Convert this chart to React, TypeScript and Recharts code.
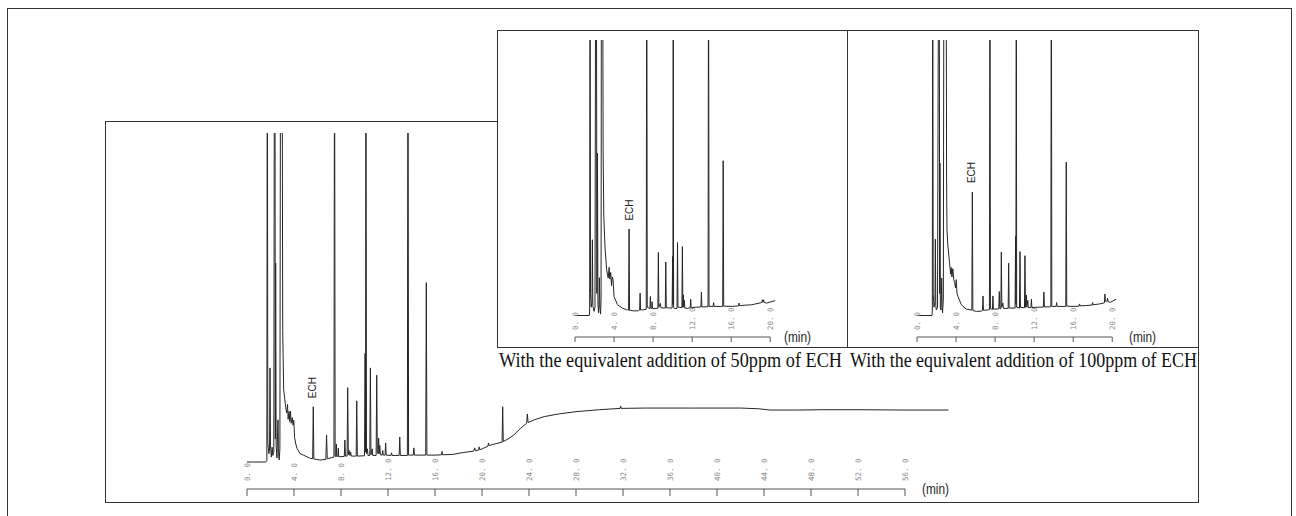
import React from 'react';
import { LineChart, Line, XAxis, YAxis, ReferenceLine, ReferenceDot } from 'recharts';

type Pt = [number, number];

// retention time (min) / detector signal (% of plotted full scale; >100 = off scale)
const mainSolvent: Pt[] = [
  [0, 0], [1.6, 0], [1.69, 0.5], [1.73, 150], [1.77, 6], [1.86, 2.5], [1.92, 4], [1.96, 28.6], [2.0, 5],
  [2.07, 1.5], [2.14, 4.5], [2.2, 2], [2.28, 3], [2.34, 150], [2.38, 150], [2.41, 7], [2.44, 60.5], [2.48, 5],
  [2.55, 1.2], [2.6, 9], [2.64, 12.8], [2.68, 3], [2.74, 0.6], [2.8, 4], [2.86, 150], [2.98, 150], [3.04, 40],
  [3.12, 22], [3.2, 19.5], [3.3, 16.5], [3.38, 14.9], [3.45, 17.5], [3.5, 13], [3.58, 15.4], [3.64, 12.3],
  [3.7, 15.4], [3.76, 11.8], [3.85, 13.5], [3.92, 11.2], [3.98, 12.7], [4.05, 7.5], [4.15, 5.5], [4.25, 4.2],
  [4.5, 2.6], [4.8, 2.1], [5.1, 1.6], [5.4, 1.1],
];

const mainMiddle: Pt[] = [
  [5.59, 1.0], [5.64, 16.8], [5.69, 0.9], [6.2, 0.6], [6.71, 0.8], [6.77, 8.2], [6.83, 1.0], [7.2, 1.3],
  [7.4, 1.5], [7.45, 150], [7.5, 2.0], [7.56, 1.6], [7.6, 5.5], [7.64, 1.7], [7.73, 1.7], [7.77, 4.2],
  [7.81, 1.6], [8.28, 1.7], [8.33, 6.7], [8.38, 1.8], [8.52, 1.8], [8.57, 22.6], [8.62, 2.2], [8.7, 3.5],
  [8.76, 2.0], [8.82, 3.0], [8.88, 1.8], [9.29, 1.8], [9.34, 18.6], [9.39, 1.8], [10.0, 1.9], [10.05, 33],
  [10.09, 3], [10.12, 150], [10.17, 2.5], [10.25, 4], [10.3, 2], [10.45, 2], [10.5, 28.6], [10.55, 2.2],
  [10.65, 4], [10.7, 2], [10.99, 2], [11.04, 26.4], [11.09, 3], [11.16, 2.5], [11.2, 7.3], [11.25, 2.5],
  [11.3, 5], [11.35, 2.2], [11.5, 2.1], [11.55, 3.5], [11.6, 2.1], [11.75, 2.1], [11.8, 5.8], [11.85, 2.1],
  [12.25, 2.0], [12.3, 2.8], [12.35, 2.0], [12.95, 2.0], [13.0, 7.6], [13.05, 2.0], [13.65, 2.0], [13.7, 150],
  [13.75, 2.1], [14.15, 2.1], [14.2, 4.3], [14.25, 2.1], [15.21, 2.1], [15.26, 54.5], [15.31, 2.1],
  [16.0, 2.1], [16.55, 2.2], [16.6, 3.2], [16.65, 2.2],
];

const mainRamp: Pt[] = [
  [17.5, 2.3], [18.4, 2.9], [19.3, 3.3], [19.38, 4.3], [19.45, 3.4], [19.7, 3.6], [19.76, 4.6], [19.82, 3.7],
  [20.5, 4.8], [20.55, 5.8], [20.6, 5.0], [21.2, 5.6], [21.71, 6.0], [21.76, 16.8], [21.81, 6.2], [22.3, 7.2],
  [22.7, 8.2], [23.3, 10.3], [23.8, 11.8], [23.86, 14.6], [23.92, 12.0], [24.5, 12.9], [25.3, 13.8],
  [26.5, 14.6], [28, 15.3], [30, 15.9], [31.75, 16.3], [31.8, 17.0], [31.85, 16.3], [34, 16.4], [38, 16.4],
  [42, 16.4], [43.5, 16.2], [44.5, 15.8], [47, 15.8], [49, 15.9], [52, 15.9], [56, 15.8], [59.7, 15.8],
];

const inset50: Pt[] = [
  [0, 0], [1.47, 0], [1.5, 2], [1.54, 150], [1.59, 8], [1.66, 3], [1.74, 5], [1.78, 27.5], [1.83, 3.5],
  [1.95, 1.5], [2.05, 3], [2.12, 150], [2.19, 150], [2.24, 8], [2.3, 58.9], [2.35, 4], [2.42, 1], [2.47, 6],
  [2.5, 13.7], [2.55, 3], [2.62, 0.5], [2.67, 6], [2.71, 150], [2.83, 150], [2.88, 60], [2.95, 36],
  [3.07, 25], [3.24, 16.6], [3.4, 13.6], [3.5, 17.5], [3.56, 13.2], [3.66, 15.6], [3.74, 10.8], [3.82, 14],
  [3.9, 12.9], [4.0, 6.9], [4.35, 3.9], [4.86, 2.7], [5.27, 2.1], [5.49, 2.0], [5.54, 31.4], [5.59, 1.9],
  [6.0, 1.7], [6.5, 1.7], [6.62, 2], [6.67, 8.1], [6.72, 2], [7.05, 2.1], [7.3, 2.3], [7.35, 150], [7.4, 3],
  [7.67, 2.5], [7.72, 6.9], [7.77, 2.6], [7.87, 2.6], [7.9, 5], [7.94, 2.5], [8.49, 2.6], [8.54, 22.9],
  [8.59, 3], [8.75, 4.4], [8.8, 2.8], [9.25, 2.7], [9.3, 19.4], [9.35, 2.8], [9.95, 2.7], [10.0, 21.4],
  [10.03, 4], [10.06, 150], [10.1, 3], [10.2, 2.5], [10.45, 2.6], [10.5, 26.5], [10.55, 3], [10.7, 3],
  [10.95, 2.8], [11.0, 25.0], [11.05, 3], [11.1, 7.5], [11.15, 3], [11.2, 5.5], [11.25, 2.7], [11.5, 2.6],
  [11.8, 2.8], [11.85, 5.9], [11.9, 2.8], [12.3, 3.0], [12.9, 3.1], [12.95, 8.5], [13.0, 3.1], [13.63, 3.2],
  [13.68, 150], [13.73, 3.3], [14.15, 3.3], [14.2, 4.7], [14.25, 3.3], [15.13, 3.3], [15.18, 56.2],
  [15.23, 3.4], [16.1, 3.3], [16.75, 3.5], [16.8, 4.5], [16.85, 3.6], [18.1, 3.9], [19.0, 4.6], [19.15, 4.8],
  [19.2, 5.7], [19.25, 4.8], [19.32, 5.7], [19.37, 4.8], [19.6, 4.5], [20.5, 5.4],
];

const inset100: Pt[] = [
  [0, 0], [1.54, 0], [1.57, 2], [1.61, 150], [1.66, 8], [1.74, 3], [1.84, 5], [1.88, 27.7], [1.93, 3.5],
  [1.98, 2], [2.1, 3], [2.22, 150], [2.28, 150], [2.32, 8], [2.35, 55.3], [2.39, 3], [2.44, 2], [2.5, 6],
  [2.53, 13.6], [2.57, 3], [2.62, 1], [2.7, 6], [2.76, 150], [2.98, 150], [3.03, 50], [3.07, 31], [3.17, 25],
  [3.34, 19], [3.45, 15], [3.5, 17.4], [3.58, 14], [3.67, 17], [3.77, 13], [3.85, 12], [3.95, 10], [4.02, 13],
  [4.1, 8], [4.2, 6.9], [4.54, 3.9], [5.05, 2.3], [5.62, 2.0], [5.67, 44.8], [5.72, 1.8], [6.1, 1.5],
  [6.6, 1.6], [6.71, 1.8], [6.76, 7.1], [6.81, 1.9], [7.2, 2.0], [7.42, 2.1], [7.47, 150], [7.52, 2.5],
  [7.73, 2.2], [7.78, 7.1], [7.83, 2.3], [8.38, 2.4], [8.43, 8.7], [8.48, 2.5], [8.59, 2.5], [8.64, 23.0],
  [8.69, 3], [8.8, 4.5], [8.85, 2.6], [9.34, 2.6], [9.39, 19.0], [9.44, 2.7], [10.05, 2.7], [10.1, 28.7],
  [10.13, 4], [10.17, 150], [10.21, 3], [10.5, 2.7], [10.55, 23.2], [10.6, 3], [11.01, 2.8], [11.06, 21.7],
  [11.11, 3], [11.2, 7.4], [11.25, 3], [11.35, 5.5], [11.4, 2.9], [11.67, 2.9], [11.72, 5.9], [11.77, 2.9],
  [12.4, 3.0], [12.95, 3.1], [13.0, 8.5], [13.05, 3.1], [13.71, 3.2], [13.76, 150], [13.81, 3.3],
  [14.25, 3.3], [14.3, 4.7], [14.35, 3.3], [15.24, 3.3], [15.29, 55.7], [15.34, 3.4], [15.97, 3.3],
  [16.6, 3.4], [16.65, 4.2], [16.7, 3.5], [17.3, 3.6], [17.94, 3.8], [17.99, 4.7], [18.04, 3.9], [18.7, 4.2],
  [19.2, 4.6], [19.25, 7.8], [19.3, 5.2], [19.47, 5.2], [19.52, 6.3], [19.57, 5.0], [19.8, 4.8], [20.4, 5.9],
];

const mainTicks = [0, 4, 8, 12, 16, 20, 24, 28, 32, 36, 40, 44, 48, 52, 56];
const mainTickLabels = ['0. 0', '4. 0', '8. 0', '12. 0', '16. 0', '20. 0', '24. 0', '28. 0', '32. 0', '36. 0', '40. 0', '44. 0', '48. 0', '52. 0', '56. 0'];
const insetTicks = [0, 4, 8, 12, 16, 20];
const insetTickLabels = ['0. 0', '4. 0', '8. 0', '12. 0', '16. 0', '20. 0'];
const captions = ['With the equivalent addition of 50ppm of ECH', 'With the equivalent addition of 100ppm of ECH'];
const peakName = 'ECH';
const unitLabel = '(min)';

const toRows = (...parts: Pt[][]) => parts.flat().map(([t, v]) => ({ t, v }));

const mainData = toRows(mainSolvent, mainMiddle, mainRamp);
const inset50Data = toRows(inset50);
const inset100Data = toRows(inset100);

const TRACE = '#262626';
const AXIS = '#555';

function TimeTick(props: any) {
  const { x, y, payload, ticks, labels, lift } = props;
  const label = labels[ticks.indexOf(payload.value)];
  return (
    <text
      transform={`translate(${x},${y - lift}) rotate(-90)`}
      textAnchor="start"
      dominantBaseline="central"
      fontSize={7.5}
      fill="#888"
      fontFamily="DejaVu Sans Mono, monospace"
    >
      {label}
    </text>
  );
}

function PeakLabel(props: any) {
  const { cx, cy } = props;
  return (
    <text
      transform={`translate(${cx},${cy}) rotate(-90)`}
      textAnchor="middle"
      dominantBaseline="central"
      fontSize={10}
      fill="#222"
      fontFamily="Liberation Sans, Arial, sans-serif"
    >
      {peakName}
    </text>
  );
}

type InsetProps = {
  data: { t: number; v: number }[];
  left: number;
  width: number;
  marginLeft: number;
  marginRight: number;
  ech: [number, number];
};

function Inset({ data, left, width, marginLeft, marginRight, ech }: InsetProps) {
  return (
    <div style={{ position: 'absolute', left, top: 30, width, height: 317, background: '#fff' }}>
      <LineChart width={width} height={317} data={data} margin={{ top: 10, right: marginRight, bottom: 0, left: marginLeft }}>
        <XAxis
          type="number"
          dataKey="t"
          domain={[0, 21]}
          ticks={insetTicks}
          interval={0}
          allowDataOverflow
          axisLine={false}
          tickSize={5}
          tickMargin={0}
          tickLine={{ stroke: AXIS }}
          height={10}
          tick={<TimeTick ticks={insetTicks} labels={insetTickLabels} lift={12} />}
        />
        <YAxis type="number" domain={[-7.8, 100]} allowDataOverflow hide />
        <ReferenceLine segment={[{ x: 0, y: -7.8 }, { x: 20, y: -7.8 }]} stroke={AXIS} ifOverflow="visible" />
        <Line type="linear" dataKey="v" stroke={TRACE} strokeWidth={1} dot={false} isAnimationActive={false} />
        <ReferenceDot x={ech[0]} y={ech[1]} r={0} ifOverflow="visible" shape={(p: any) => <PeakLabel {...p} />} />
      </LineChart>
    </div>
  );
}

const unitStyle = { fontSize: 14, fontFamily: 'Liberation Sans, Arial, sans-serif', fill: '#222' };
const captionStyle = { fontSize: 20, fontFamily: 'Liberation Serif, Times New Roman, serif', fill: '#111' };

export default function App() {
  return (
    <div style={{ position: 'absolute', left: 0, top: 0, width: 1296, height: 516, background: '#fff', overflow: 'hidden' }}>
      {/* outer frame */}
      <div style={{ position: 'absolute', left: 7, top: 8, width: 1285, height: 560, border: '1px solid #333', boxSizing: 'border-box' }} />
      {/* main chromatogram box */}
      <div style={{ position: 'absolute', left: 105, top: 121, width: 1094, height: 382, border: '1px solid #333', boxSizing: 'border-box' }} />
      <div style={{ position: 'absolute', left: 105, top: 121 }}>
        <LineChart width={1093} height={381} data={mainData} margin={{ top: 12, right: 246, bottom: 0, left: 142 }}>
          <XAxis
            type="number"
            dataKey="t"
            domain={[0, 60]}
            ticks={mainTicks}
            interval={0}
            allowDataOverflow
            axisLine={false}
            tickSize={7}
            tickMargin={0}
            tickLine={{ stroke: AXIS }}
            height={13}
            tick={<TimeTick ticks={mainTicks} labels={mainTickLabels} lift={15} />}
          />
          <YAxis type="number" domain={[-8.2, 100]} allowDataOverflow hide />
          <ReferenceLine segment={[{ x: 0, y: -8.2 }, { x: 56, y: -8.2 }]} stroke={AXIS} ifOverflow="visible" />
          <Line type="linear" dataKey="v" stroke={TRACE} strokeWidth={1} dot={false} isAnimationActive={false} />
          <ReferenceDot x={5.55} y={22.6} r={0} ifOverflow="visible" shape={(p: any) => <PeakLabel {...p} />} />
        </LineChart>
      </div>
      {/* insets */}
      <Inset data={inset50Data} left={497} width={350} marginLeft={78} marginRight={67} ech={[5.57, 38.3]} />
      <Inset data={inset100Data} left={847} width={351} marginLeft={70} marginRight={76} ech={[5.63, 51.9]} />
      <div style={{ position: 'absolute', left: 497, top: 30, width: 702, height: 318, border: '1px solid #333', boxSizing: 'border-box' }} />
      <div style={{ position: 'absolute', left: 847, top: 30, width: 1, height: 318, background: '#333' }} />
      <svg width={1296} height={516} style={{ position: 'absolute', left: 0, top: 0, pointerEvents: 'none' }}>
        <text x={922} y={494} textLength={27} lengthAdjust="spacingAndGlyphs" style={unitStyle}>{unitLabel}</text>
        <text x={784} y={342} textLength={27} lengthAdjust="spacingAndGlyphs" style={unitStyle}>{unitLabel}</text>
        <text x={1129} y={342} textLength={27} lengthAdjust="spacingAndGlyphs" style={unitStyle}>{unitLabel}</text>
        <text x={499} y={367} textLength={343} lengthAdjust="spacingAndGlyphs" style={captionStyle}>{captions[0]}</text>
        <text x={850} y={367} textLength={347} lengthAdjust="spacingAndGlyphs" style={captionStyle}>{captions[1]}</text>
      </svg>
    </div>
  );
}
